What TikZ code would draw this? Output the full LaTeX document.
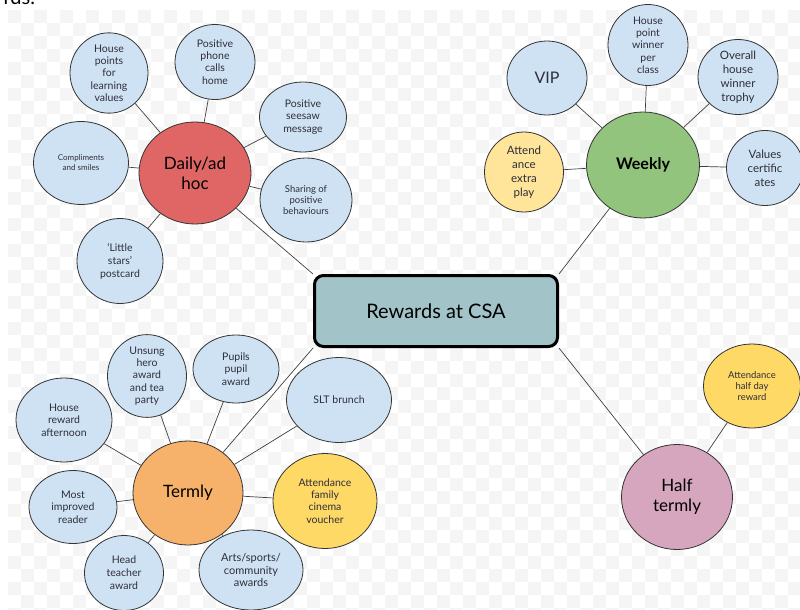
\documentclass[tikz,border=0pt]{standalone}
\usepackage{fontspec}
\setmainfont{Lato}
\usepackage{xcolor}
\usetikzlibrary{shapes.geometric}

\definecolor{bubbleblue}{HTML}{CFE2F3}
\definecolor{dailyred}{HTML}{E06666}
\definecolor{weekgreen}{HTML}{93C47D}
\definecolor{termorange}{HTML}{F6B26B}
\definecolor{halfpink}{HTML}{D5A6BD}
\definecolor{paleyellow}{HTML}{FFE599}
\definecolor{goldyellow}{HTML}{FFD966}
\definecolor{csateal}{HTML}{A2C4C9}
\definecolor{inktext}{HTML}{2E2E3A}

\begin{document}
\begin{tikzpicture}[x=1pt,y=-1pt,
    bubble/.style={ellipse, draw=black!80, line width=0.8pt, fill=bubbleblue,
        inner sep=0pt, align=center, text=inktext,
        font=\fontsize{10.5}{12.3}\selectfont},
    hub/.style={ellipse, draw=black!80, line width=0.8pt, inner sep=0pt,
        align=center, text=black, font=\fontsize{17}{20}\selectfont},
    link/.style={draw=black!75, line width=0.7pt}]
    % page and faint checker
    \useasboundingbox (0,0) rectangle (800,610);
    \fill[white] (0,0) rectangle (800,610);
    \foreach \x in {8,34,...,800}
        \foreach \y in {10,36,...,610}
            {\fill[black!4] (\x,\y) rectangle +(13,13);
             \fill[black!4] (\x+13,\y+13) rectangle +(13,13);}
    \node[anchor=base west, font=\fontsize{20}{24}\selectfont] (tail) at (0,5) {rds.};

    % centre
    \node[draw=black, line width=3pt, rounded corners=9pt, fill=csateal,
          minimum width=243pt, minimum height=71pt,
          font=\fontsize{20}{24}\selectfont] (csa) at (436,311) {Rewards at CSA};

    % daily / ad hoc
    \node[hub, fill=dailyred, minimum width=112pt, minimum height=102pt] (daily) at (195,173) {Daily/ad\\hoc};
    \node[bubble, minimum width=78pt, minimum height=73pt] (hpoints) at (109,73) {House\\points\\for\\learning\\values};
    \node[bubble, minimum width=80pt, minimum height=75pt] (phone) at (215,62) {Positive\\phone\\calls\\home};
    \node[bubble, minimum width=87pt, minimum height=70pt] (seesaw) at (303,117) {Positive\\seesaw\\message};
    \node[bubble, minimum width=95pt, minimum height=83pt, font=\fontsize{8}{10}\selectfont] (compl) at (81,163) {Compliments\\and smiles};
    \node[bubble, minimum width=92pt, minimum height=84pt, font=\fontsize{9.5}{10.7}\selectfont] (sharing) at (306,200) {Sharing of\\positive\\behaviours};
    \node[bubble, minimum width=86pt, minimum height=85pt, font=\fontsize{10.5}{13}\selectfont] (stars) at (120,261) {`Little\\stars'\\postcard};
    \foreach \leaf in {hpoints,phone,seesaw,compl,sharing,stars}
        \draw[link] (daily) -- (\leaf);
    \draw[link] (daily) -- (csa.north west);

    % weekly
    \node[hub, fill=weekgreen, minimum width=113pt, minimum height=106pt,
          font=\bfseries\fontsize{16}{20}\selectfont] (weekly) at (643,165) {Weekly};
    \node[bubble, minimum width=80pt, minimum height=74pt, font=\fontsize{16}{20}\selectfont] (vip) at (547,78) {VIP};
    \node[bubble, minimum width=80pt, minimum height=81pt] (hpwin) at (648,45) {House\\point\\winner\\per\\class};
    \node[bubble, minimum width=80pt, minimum height=75pt, font=\fontsize{11.5}{14}\selectfont] (trophy) at (738,77) {Overall\\house\\winner\\trophy};
    \node[bubble, minimum width=77pt, minimum height=75pt, font=\fontsize{11.5}{14}\selectfont] (valcert) at (765,168) {Values\\certific\\ates};
    \node[bubble, fill=paleyellow, minimum width=79pt, minimum height=80pt, font=\fontsize{11.5}{14}\selectfont] (attplay) at (524,172) {Attend\\ance\\extra\\play};
    \foreach \leaf in {vip,hpwin,trophy,valcert,attplay}
        \draw[link] (weekly) -- (\leaf);
    \draw[link] (weekly) -- (csa.north east);

    % termly
    \node[hub, fill=termorange, minimum width=110pt, minimum height=104pt] (termly) at (188,493) {Termly};
    \node[bubble, minimum width=79pt, minimum height=78pt] (unsung) at (147,376) {Unsung\\hero\\award\\and tea\\party};
    \node[bubble, minimum width=86pt, minimum height=68pt] (pupils) at (236,369) {Pupils\\pupil\\award};
    \node[bubble, minimum width=96pt, minimum height=84pt] (hreward) at (64,420) {House\\reward\\afternoon};
    \node[bubble, minimum width=105pt, minimum height=85pt] (slt) at (339,400) {SLT brunch};
    \node[bubble, minimum width=88pt, minimum height=73pt] (improved) at (73,507) {Most\\improved\\reader};
    \node[bubble, fill=goldyellow, minimum width=104pt, minimum height=95pt] (cinema) at (325,501) {Attendance\\family\\cinema\\voucher};
    \node[bubble, minimum width=79pt, minimum height=75pt, font=\fontsize{10.5}{13}\selectfont] (headt) at (124,573) {Head\\teacher\\award};
    \node[bubble, minimum width=104pt, minimum height=80pt, font=\fontsize{11}{12.3}\selectfont] (arts) at (251,570) {Arts/sports/\\community\\awards};
    \foreach \leaf in {unsung,pupils,hreward,slt,improved,cinema,headt,arts}
        \draw[link] (termly) -- (\leaf);
    \draw[link] (termly) -- (csa.south west);

    % half termly
    \node[hub, fill=halfpink, minimum width=111pt, minimum height=105pt] (half) at (677,497) {Half\\termly};
    \node[bubble, fill=goldyellow, minimum width=97pt, minimum height=84pt, font=\fontsize{9.5}{11.3}\selectfont] (halfday) at (752,386) {Attendance\\half day\\reward};
    \draw[link] (half) -- (halfday);
    \draw[link] (half) -- (csa.south east);
\end{tikzpicture}
\end{document}
